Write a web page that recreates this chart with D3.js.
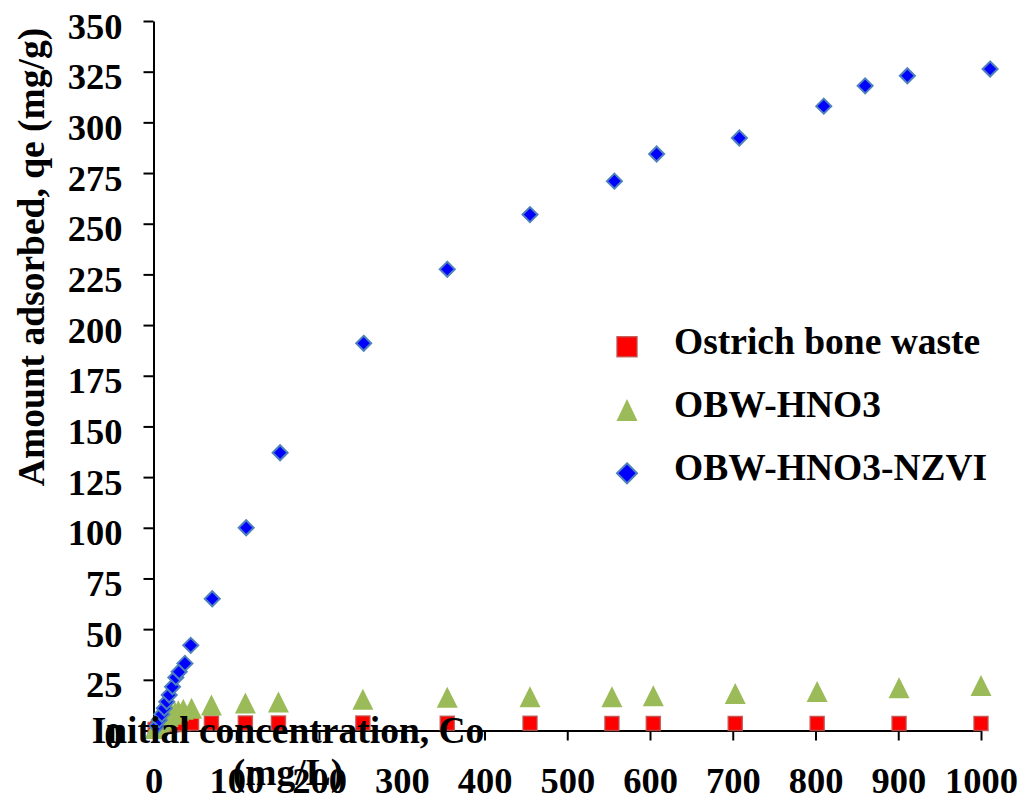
<!DOCTYPE html>
<html>
<head>
<meta charset="utf-8">
<script src="https://cdn.jsdelivr.net/npm/d3@7"></script>
<style>
  body { margin: 0; background: #fff; }
  text { font-family: "Liberation Serif", "Times New Roman", serif; font-weight: bold; }
</style>
</head>
<body>
<svg id="chart" width="1033" height="804"></svg>
<script>
// Initial concentration (mg/L) for the two bone samples
let concX = [2, 5, 8, 11, 14, 18, 22, 26, 30, 36, 46, 70, 111, 151, 253, 355, 455, 554, 604, 703, 802, 901, 1000];
// Ostrich bone waste, qe (mg/g)
let boneY = [0.5, 1, 1.5, 2, 2.3, 2.6, 2.8, 3, 3.2, 3.4, 3.6, 3.7, 3.7, 3.7, 3.7, 3.6, 3.6, 3.5, 3.5, 3.5, 3.5, 3.5, 3.5];
// OBW-HNO3
let hno3Y = [1, 2.5, 3.5, 5, 6, 7, 8, 9, 9.8, 10.5, 11, 12.6, 13.6, 14.1, 15.4, 16.4, 16.7, 16.7, 17.1, 18.3, 19.2, 21.1, 22.2];
// OBW-HNO3-NZVI has its own x values
let nzviX = [4, 7, 10, 13, 16, 19, 23, 27, 31, 38, 45, 71, 112, 153, 254, 355, 455, 557, 608, 708, 810, 860, 911, 1011];
let nzviY = [2.2, 5.2, 8, 11, 14.2, 17.5, 21.6, 26.2, 29, 33.1, 42, 65, 100, 137, 191, 227.5, 254.5, 271, 284.4, 292.3, 308, 318, 323, 326.3];

let xTicks = [0, 100, 200, 300, 400, 500, 600, 700, 800, 900, 1000];
let yTicks = [0, 25, 50, 75, 100, 125, 150, 175, 200, 225, 250, 275, 300, 325, 350];
let seriesNames = ["Ostrich bone waste", "OBW-HNO3", "OBW-HNO3-NZVI"];

let svg = d3.select("#chart");
let x = d3.scaleLinear().domain([0, 1000]).range([153.5, 981]);
let y = d3.scaleLinear().domain([0, 350]).range([730.5, 21]);

// marker shapes, s = bounding box size
function square(s) { let h = s / 2; return `M${-h},${-h}H${h}V${h}H${-h}Z`; }
function triangle(w, hgt) { return `M0,${-hgt / 2}L${w / 2},${hgt / 2}L${-w / 2},${hgt / 2}Z`; }
function diamond(s) { let h = s / 2; return `M0,${-h}L${h},0L0,${h}L${-h},0Z`; }

let styles = [
  { path: square(14), legend: square(20), fill: "#ff0000", stroke: "rgba(192,80,77,0.85)", sw: 1.5 },
  { path: triangle(21, 21), legend: triangle(21, 22), fill: "#9bbb59", stroke: "none", sw: 0 },
  { path: diamond(15), legend: diamond(20), fill: "#0000ff", stroke: "#4f81bd", sw: 2 }
];

let series = [
  d3.zip(concX, boneY),
  d3.zip(concX, hno3Y),
  d3.zip(nzviX, nzviY)
];

// axes
let xAxis = svg.append("g")
  .attr("transform", "translate(0," + y(0) + ")")
  .call(d3.axisBottom(x).tickValues(xTicks).tickFormat(d3.format("d"))
    .tickSize(10).tickSizeOuter(0).tickPadding(27));
let yAxis = svg.append("g")
  .attr("transform", "translate(" + x(0) + ",0)")
  .call(d3.axisLeft(y).tickValues(yTicks).tickSize(10).tickSizeOuter(0).tickPadding(21));

[xAxis, yAxis].forEach(g => {
  g.selectAll("path, line").attr("stroke", "#000").attr("stroke-width", 2);
  g.selectAll("text").attr("fill", "#000").attr("font-size", 36.5)
    .style("font-family", '"Liberation Serif", "Times New Roman", serif')
    .style("font-weight", "bold");
});
yAxis.selectAll("text").attr("dy", "0.47em");

// points
series.forEach((pts, i) => {
  let st = styles[i];
  svg.append("g")
    .selectAll("path")
    .data(pts)
    .enter()
    .append("path")
    .attr("d", st.path)
    .attr("transform", d => "translate(" + x(d[0]) + "," + y(d[1]) + ")")
    .attr("fill", st.fill)
    .attr("stroke", st.stroke)
    .attr("stroke-width", st.sw);
});

// legend
let legend = svg.append("g").attr("transform", "translate(627,346.7)");
seriesNames.forEach((name, i) => {
  let st = styles[i];
  let row = legend.append("g").attr("transform", "translate(0," + i * 63.3 + ")");
  row.append("path").attr("d", st.legend)
    .attr("fill", st.fill).attr("stroke", st.stroke).attr("stroke-width", st.sw);
  row.append("text").attr("x", 47).attr("y", 7)
    .attr("font-size", 37.5).text(name);
});

// axis titles
svg.append("text")
  .attr("transform", "translate(44,257) rotate(-90)")
  .attr("text-anchor", "middle")
  .attr("font-size", 37.5)
  .text("Amount adsorbed, qe (mg/g)");

let xt = svg.append("text").attr("text-anchor", "middle").attr("font-size", 37.5);
xt.append("tspan").attr("x", 288).attr("y", 743).text("Initial concentration, Co");
xt.append("tspan").attr("x", 288).attr("y", 785).text("(mg/L)");
</script>
</body>
</html>
